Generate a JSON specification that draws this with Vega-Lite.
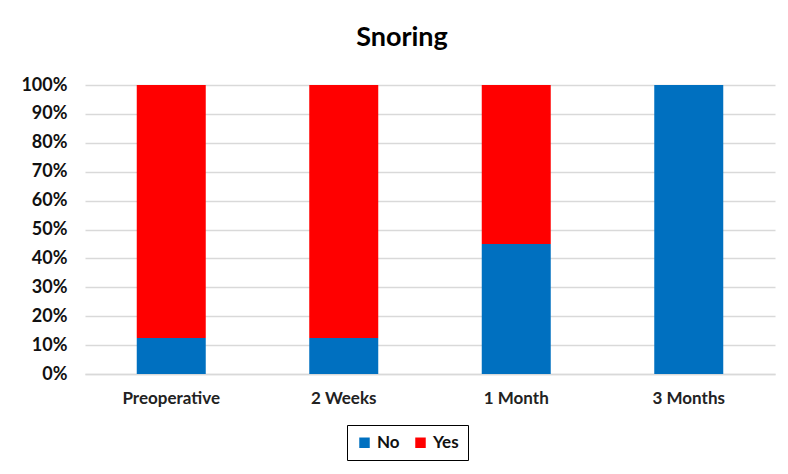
{
  "$schema": "https://vega.github.io/schema/vega-lite/v6.json",
  "width": 690,
  "height": 289,
  "autosize": {"type": "none"},
  "padding": {"left": 85, "top": 85, "right": 13, "bottom": 100},
  "background": "white",
  "title": {
    "text": "Snoring",
    "font": "Lato",
    "fontSize": 27,
    "fontWeight": "bold",
    "color": "black",
    "anchor": "middle",
    "dx": -28,
    "offset": 24
  },
  "data": {
    "values": [
      {"period": "Preoperative", "answer": "No", "pct": 0.125},
      {"period": "Preoperative", "answer": "Yes", "pct": 0.875},
      {"period": "2 Weeks", "answer": "No", "pct": 0.125},
      {"period": "2 Weeks", "answer": "Yes", "pct": 0.875},
      {"period": "1 Month", "answer": "No", "pct": 0.45},
      {"period": "1 Month", "answer": "Yes", "pct": 0.55},
      {"period": "3 Months", "answer": "No", "pct": 1.0},
      {"period": "3 Months", "answer": "Yes", "pct": 0.0}
    ]
  },
  "mark": {"type": "bar"},
  "encoding": {
    "x": {
      "field": "period",
      "type": "nominal",
      "sort": ["Preoperative", "2 Weeks", "1 Month", "3 Months"],
      "scale": {"paddingInner": 0.6, "paddingOuter": 0.3},
      "axis": {
        "title": null,
        "labelAngle": 0,
        "labelFont": "Lato",
        "labelFontSize": 17,
        "labelFontWeight": "bold",
        "labelColor": "#222",
        "labelPadding": 16,
        "ticks": false,
        "domainColor": "#d9d9d9",
        "domainWidth": 1.5
      }
    },
    "y": {
      "field": "pct",
      "type": "quantitative",
      "stack": "zero",
      "scale": {"domain": [0, 1]},
      "axis": {
        "title": null,
        "format": ".0%",
        "values": [0, 0.1, 0.2, 0.3, 0.4, 0.5, 0.6, 0.7, 0.8, 0.9, 1.0],
        "labelOverlap": false,
        "labelFont": "Lato",
        "labelFontSize": 18,
        "labelFontWeight": "bold",
        "labelColor": "#111",
        "labelPadding": 18,
        "ticks": false,
        "domain": false,
        "gridColor": "#d9d9d9",
        "gridWidth": 1.5
      }
    },
    "color": {
      "field": "answer",
      "type": "nominal",
      "scale": {"domain": ["No", "Yes"], "range": ["#0070c0", "#ff0000"]},
      "legend": {
        "title": null,
        "orient": "none",
        "legendX": 262,
        "legendY": 340,
        "direction": "horizontal",
        "symbolType": "square",
        "symbolSize": 110,
        "symbolStrokeWidth": 0,
        "labelFont": "Lato",
        "labelFontSize": 17,
        "labelFontWeight": "bold",
        "labelColor": "#111",
        "columnPadding": 12,
        "strokeColor": "black",
        "padding": 9
      }
    },
    "order": {"field": "answer", "sort": "ascending"}
  },
  "config": {"view": {"stroke": null}}
}
